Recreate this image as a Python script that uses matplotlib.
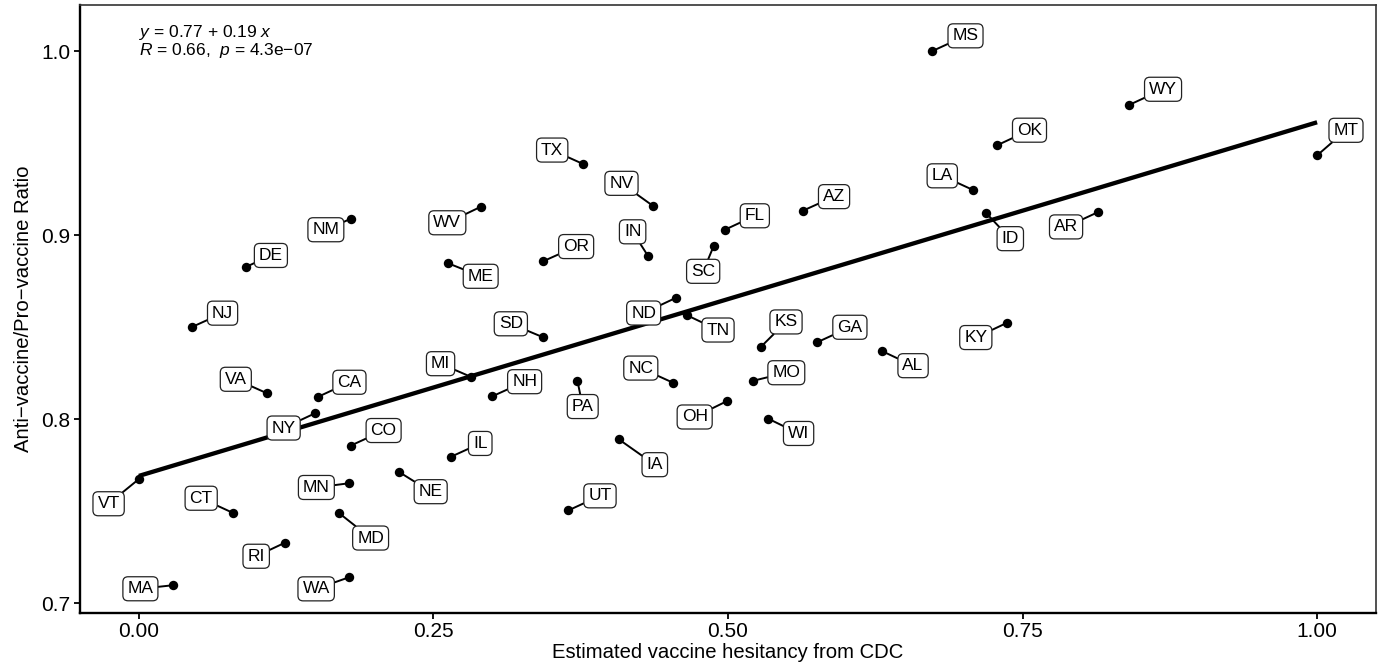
###########
# Imports #
###########
import numpy as np
import matplotlib
matplotlib.use("Agg")
import matplotlib.pyplot as plt

########
# Data #
########
states = ["NJ", "DE", "NM", "ME", "VA", "CA", "NY", "CO", "IL", "MN",
          "NE", "VT", "CT", "MD", "RI", "WA", "MA", "MI", "TX", "NV",
          "WV", "OR", "IN", "FL", "AZ", "SC", "ND", "TN", "SD", "NH",
          "PA", "NC", "MO", "OH", "WI", "KS", "GA", "AL", "IA", "UT",
          "MS", "WY", "OK", "LA", "ID", "AR", "MT", "KY"]

# Estimated vaccine hesitancy from CDC (scaled)
hesitancy = [0.0447, 0.0908, 0.1799, 0.2625, 0.1083, 0.1522, 0.1494, 0.1796, 0.2645, 0.1782,
             0.2204, 0.0000, 0.0795, 0.1695, 0.1239, 0.1782, 0.0286, 0.2815, 0.3771, 0.4365,
             0.2902, 0.3431, 0.4322, 0.4973, 0.5637, 0.4880, 0.4560, 0.4648, 0.3431, 0.2998,
             0.3722, 0.4534, 0.5208, 0.4993, 0.5341, 0.5276, 0.5757, 0.6311, 0.4073, 0.3646,
             0.6735, 0.8404, 0.7284, 0.7080, 0.7188, 0.8141, 1.0000, 0.7369]

# Anti-vaccine / pro-vaccine ratio
ratio = [0.8500, 0.8827, 0.9089, 0.8847, 0.8142, 0.8122, 0.8032, 0.7856, 0.7795, 0.7652,
         0.7715, 0.7675, 0.7492, 0.7492, 0.7329, 0.7141, 0.7098, 0.8231, 0.9386, 0.9158,
         0.9154, 0.8858, 0.8886, 0.9029, 0.9133, 0.8943, 0.8660, 0.8566, 0.8445, 0.8124,
         0.8209, 0.8198, 0.8208, 0.8099, 0.8003, 0.8391, 0.8418, 0.8369, 0.7891, 0.7505,
         1.0000, 0.9707, 0.9488, 0.9245, 0.9122, 0.9125, 0.9433, 0.8524]

eq_text = r"$y$ = 0.77 + 0.19 $x$"
cor_text = "$R$ = 0.66,  $p$ = 4.3e\u221207"

# ----- label placement (pixel offsets from the point, image y goes down) -----
label_offsets = [(31, -14), (25, -11.5), (-25, 11), (32.5, 13), (-30.7, -13.8), (31.2, -14.5),
                 (-31.3, 14.7), (33.1, -15.2), (29.7, -13.5), (-32.5, 4.2), (32.1, 20),
                 (-30.3, 24.7), (-31.4, -14.5), (32, 25.3), (-28.7, 13.5), (-32.7, 11.5),
                 (-32.2, 3.5), (-30, -13), (-31, -14), (-31.7, -22.7), (-33.5, 16), (33, -14.7),
                 (-15.5, -24.3), (30, -14), (31, -14), (-10.7, 25.7), (-32.5, 15.3), (31.5, 15),
                 (-32.3, -13.5), (32.5, -14.7), (5.3, 25.8), (-32.3, -14.7), (33.8, -8.2),
                 (-32.5, 16), (30.4, 14.8), (25.5, -25.3), (32.7, -15), (30.6, 14.4),
                 (36, 25.4), (31.5, -14.5), (33.1, -15.2), (34, -15.7), (32.4, -15.1),
                 (-30.8, -14.2), (24.5, 26), (-32, 14.8), (28.9, -25.1), (-31.3, 14.8)]

############
# Plotting #
############
plt.rcParams["font.family"] = ["Liberation Sans", "DejaVu Sans"]
plt.rcParams["mathtext.fontset"] = "custom"
plt.rcParams["mathtext.rm"] = "Liberation Sans"
plt.rcParams["mathtext.it"] = "Liberation Sans:italic"

fig = plt.figure(figsize=(13.9, 6.66), dpi=100)
ax = fig.add_axes([80 / 1390, 1 - 612.7 / 666, (1376 - 80) / 1390, (612.7 - 5) / 666])

x = np.array(hesitancy)
y = np.array(ratio)

# regression line (lm fit)
slope, intercept = np.polyfit(x, y, 1)
xs = np.array([x.min(), x.max()])
ax.plot(xs, intercept + slope * xs, color="black", lw=3.1, solid_capstyle="butt", zorder=2)

ax.scatter(x, y, s=46, color="black", zorder=3, linewidths=0)

# repelled labels
for st, px, py, (dx, dy) in zip(states, x, y, label_offsets):
    ax.annotate(st, xy=(px, py), xytext=(dx, -dy), textcoords="offset pixels",
                ha="center", va="center", fontsize=12.5, zorder=4,
                bbox=dict(boxstyle="round,pad=0.26,rounding_size=0.3", fc="white",
                          ec="#222222", lw=0.9),
                arrowprops=dict(arrowstyle="-", color="black", lw=1.4,
                                shrinkA=0, shrinkB=0))

# regression equation + correlation
ax.text(0.0, 1.0074, eq_text, fontsize=12.5, ha="left", va="baseline")
ax.text(0.0, 0.9978, cor_text, fontsize=12.5, ha="left", va="baseline")

ax.set_xlim(-0.05, 1.05)
ax.set_ylim(0.6949, 1.025)
ax.set_xticks([0, 0.25, 0.5, 0.75, 1.0])
ax.set_xticklabels(["0.00", "0.25", "0.50", "0.75", "1.00"])
ax.set_yticks([0.7, 0.8, 0.9, 1.0])
ax.set_yticklabels(["0.7", "0.8", "0.9", "1.0"])
ax.tick_params(axis="both", labelsize=15, length=4, width=1.3, color="black", pad=3)

for side in ["left", "bottom"]:
    ax.spines[side].set_linewidth(1.7)
    ax.spines[side].set_color("black")
for side in ["top", "right"]:
    ax.spines[side].set_linewidth(1.2)
    ax.spines[side].set_color("#333333")

ax.set_xlabel("Estimated vaccine hesitancy from CDC", fontsize=14.6, labelpad=1)
ax.set_ylabel("Anti\u2212vaccine/Pro\u2212vaccine Ratio", fontsize=14.6, labelpad=6)

fig.savefig("out.png", dpi=100)
